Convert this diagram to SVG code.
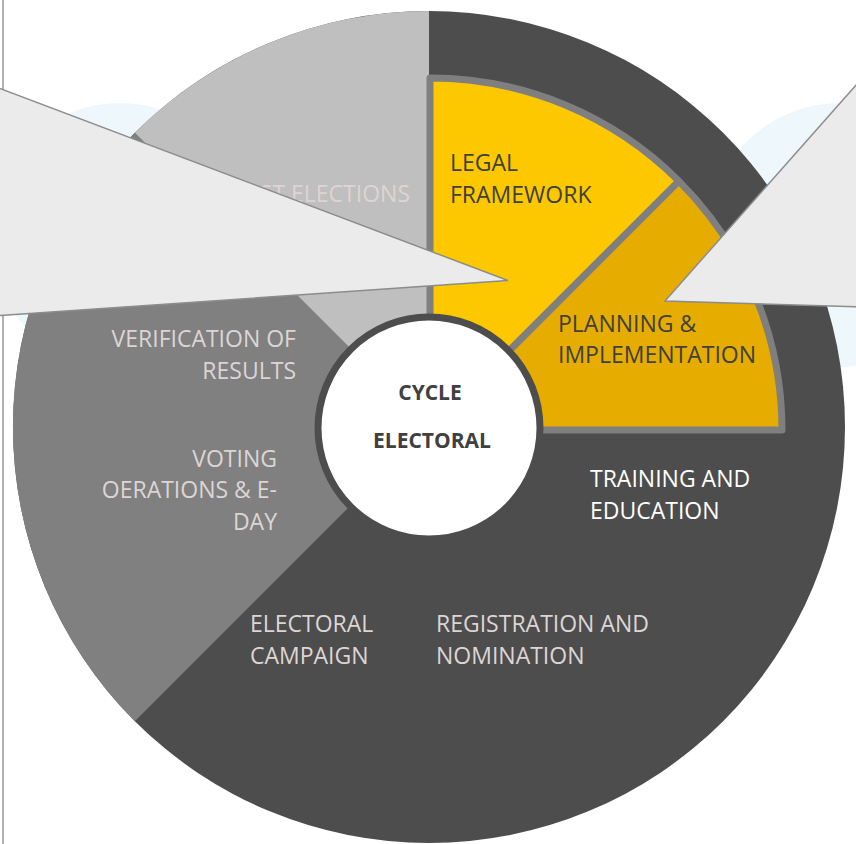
<svg xmlns="http://www.w3.org/2000/svg" width="856" height="844" viewBox="0 0 856 844">
  <defs>
    <style>
      .lbl { font-family: "Open Sans", "Liberation Sans", sans-serif; font-size: 23px; }
      .pale { fill: #ddd5d5; }
      .white { fill: #ffffff; }
      .darktxt { fill: #404040; }
      .center { font-family: "Open Sans", "Liberation Sans", sans-serif; font-size: 21px; font-weight: bold; fill: #404040; }
      .yel { stroke: #7f7f7f; stroke-width: 7; stroke-linejoin: round; }
      .callout { fill: #ebebeb; stroke: #8c8c8c; stroke-width: 1.5; stroke-linejoin: miter; }
    </style>
  </defs>
  <rect x="0" y="0" width="856" height="844" fill="#ffffff"/>
  <g id="watermark">
    <circle cx="120" cy="235" r="132" fill="#eef7fb"/>
    <circle cx="840" cy="235" r="132" fill="#eef7fb"/>
  </g>
  <line x1="3" y1="0" x2="3" y2="844" stroke="#999999" stroke-width="1.5"/>

  <g id="ring">
    <g id="seg-dark">
      <circle cx="429" cy="427" r="416" fill="#4d4d4d"/>
    </g>
    <g id="seg-medium">
      <path d="M429,427 L134.8,721.2 A416,416 0 0 1 134.8,132.8 Z" fill="#808080"/>
    </g>
    <g id="seg-light">
      <path d="M429,427 L134.8,132.8 A416,416 0 0 1 429,11 Z" fill="#bfbfbf"/>
    </g>
  </g>

  <g id="legal-framework">
    <path class="yel" d="M430,430 L430,78 A352,352 0 0 1 678.9,181.1 Z" fill="#fec800"/>
  </g>
  <g id="planning">
    <path class="yel" d="M430,430 L678.9,181.1 A352,352 0 0 1 782,430 Z" fill="#e6ad00"/>
  </g>

  <g id="center">
    <circle cx="429" cy="428" r="111" fill="#ffffff" stroke="#4d4d4d" stroke-width="7"/>
    <text class="center" x="430" y="400" text-anchor="middle">CYCLE</text>
    <text class="center" x="432" y="448" text-anchor="middle">ELECTORAL</text>
  </g>

  <g id="labels">
    <text class="lbl pale" x="410" y="202" text-anchor="end">POST ELECTIONS</text>
    <text class="lbl darktxt" x="450" y="171">LEGAL</text>
    <text class="lbl darktxt" x="450" y="203">FRAMEWORK</text>
    <text class="lbl darktxt" x="558" y="332">PLANNING &amp;</text>
    <text class="lbl darktxt" x="558" y="363">IMPLEMENTATION</text>
    <text class="lbl white" x="590" y="487">TRAINING AND</text>
    <text class="lbl white" x="590" y="519">EDUCATION</text>
    <text class="lbl pale" x="436" y="632">REGISTRATION AND</text>
    <text class="lbl pale" x="436" y="664">NOMINATION</text>
    <text class="lbl pale" x="250" y="632">ELECTORAL</text>
    <text class="lbl pale" x="250" y="664">CAMPAIGN</text>
    <text class="lbl pale" x="296" y="347" text-anchor="end">VERIFICATION OF</text>
    <text class="lbl pale" x="296" y="379" text-anchor="end">RESULTS</text>
    <text class="lbl pale" x="277" y="467" text-anchor="end">VOTING</text>
    <text class="lbl pale" x="277" y="498" text-anchor="end">OERATIONS &amp; E-</text>
    <text class="lbl pale" x="277" y="530" text-anchor="end">DAY</text>
  </g>

  <g id="callouts">
    <polygon class="callout" points="-20,81 508,280.5 -20,317"/>
    <polygon class="callout" points="880,58 665,301 880,307.5"/>
  </g>
</svg>
